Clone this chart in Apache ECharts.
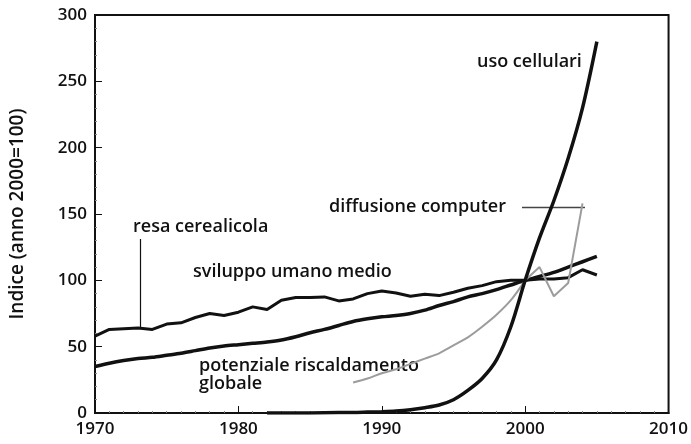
<!DOCTYPE html>
<html>
<head>
<meta charset="utf-8">
<script src="https://cdn.jsdelivr.net/npm/echarts@6/dist/echarts.min.js"></script>
<style>
    html, body { margin: 0; background: #fff; }
    #chart { width: 691px; height: 444px; }
</style>
</head>
<body>
<div id="chart"></div>
<script>
// anni e valori (indice, anno 2000 = 100)
var anniResa = [1970, 1971, 1972, 1973, 1974, 1975, 1976, 1977, 1978, 1979, 1980, 1981, 1982, 1983, 1984, 1985, 1986, 1987,
    1988, 1989, 1990, 1991, 1992, 1993, 1994, 1995, 1996, 1997, 1998, 1999, 2000, 2001, 2002, 2003, 2004, 2005];
var resaCerealicola = [58, 63, 63.5, 64, 63, 67, 68, 72, 75, 73.5, 76, 80, 78, 85, 87, 87, 87.5, 84.5,
    86, 90, 92, 90.5, 88, 89.5, 88.5, 91, 94, 96, 99, 100, 100, 101, 101, 102, 108, 104];
var sviluppoUmano = [35, 37.5, 39.5, 41, 42, 43.5, 45, 47, 49, 50.5, 51.5, 52.5, 53.5, 55, 57.5, 60.5, 63, 66,
    69, 71, 72.5, 73.5, 75, 77.5, 81, 84, 87.5, 90, 93, 96.5, 100, 103, 106, 110, 114, 118];

var anniRiscaldamento = [1988, 1989, 1990, 1991, 1992, 1993, 1994, 1995, 1996, 1997, 1998, 1999, 2000];
var riscaldamento = [23, 26, 30, 33, 37, 41, 45, 51, 57, 65, 74, 85, 100];

var anniComputer = [2000, 2001, 2002, 2003, 2004];
var computer = [100, 110, 88, 98, 158];

var anniCellulari = [1982, 1984, 1986, 1988, 1989, 1990, 1991, 1992, 1993, 1994, 1995, 1996, 1997, 1998, 1999, 2000,
    2001, 2002, 2003, 2004, 2005];
var cellulari = [0, 0, 0.2, 0.4, 0.7, 1, 1.5, 2.5, 4, 6, 10, 17, 26, 40, 65, 100, 132, 160, 192, 230, 280];

function coppie(anni, valori) {
    return anni.map(function (a, i) { return [a, valori[i]]; });
}

var font = "'Open Sans', 'DejaVu Sans', sans-serif";
var nero = "#111";
var grigio = "#9c9c9c";
var testo = "600 18px " + font;

function etichetta(x, y, t) {
    return { type: "text", x: x, y: y, style: { text: t, fill: nero, font: testo, textVerticalAlign: "middle" } };
}

var myChart = echarts.init(document.getElementById("chart"));
var opt = {
    animation: false,
    backgroundColor: "#fff",
    grid: { left: 95, right: 15, top: 15, bottom: 31, show: true, borderColor: nero, borderWidth: 2 },
    xAxis: {
        type: "value",
        min: 1970, max: 2010, interval: 10,
        axisLine: { show: true, lineStyle: { color: nero, width: 2 } },
        axisTick: { show: true, inside: true, length: 7, lineStyle: { color: nero } },
        minorTick: { show: true, splitNumber: 10, length: 2, lineStyle: { color: "#888" } },
        splitLine: { show: false },
        axisLabel: {
            color: nero, fontFamily: font, fontWeight: 600, fontSize: 17, margin: 8,
            formatter: function (v) { return String(v); }
        }
    },
    yAxis: {
        type: "value",
        min: 0, max: 300, interval: 50,
        name: "Indice (anno 2000=100)",
        nameLocation: "middle",
        nameGap: 68,
        nameTextStyle: { color: nero, fontFamily: font, fontWeight: 600, fontSize: 19 },
        axisLine: { show: true, lineStyle: { color: nero, width: 2 } },
        axisTick: { show: true, inside: true, length: 7, lineStyle: { color: nero } },
        minorTick: { show: true, splitNumber: 5, length: 2, lineStyle: { color: "#888" } },
        splitLine: { show: false },
        axisLabel: { color: nero, fontFamily: font, fontWeight: 600, fontSize: 17, margin: 8 }
    },
    series: [
        {
            name: "resa cerealicola", type: "line", showSymbol: false,
            data: coppie(anniResa, resaCerealicola),
            lineStyle: { color: nero, width: 3 }
        },
        {
            name: "sviluppo umano medio", type: "line", showSymbol: false, smooth: 0.3,
            data: coppie(anniResa, sviluppoUmano),
            lineStyle: { color: nero, width: 3.5 }
        },
        {
            name: "potenziale riscaldamento globale", type: "line", showSymbol: false, smooth: 0.3,
            data: coppie(anniRiscaldamento, riscaldamento),
            lineStyle: { color: grigio, width: 2 }
        },
        {
            name: "diffusione computer", type: "line", showSymbol: false,
            data: coppie(anniComputer, computer),
            lineStyle: { color: grigio, width: 2 }
        },
        {
            name: "uso cellulari", type: "line", showSymbol: false, smooth: 0.3,
            data: coppie(anniCellulari, cellulari),
            lineStyle: { color: nero, width: 3.5 }
        }
    ],
    graphic: [
        etichetta(477, 62, "uso cellulari"),
        etichetta(329, 207, "diffusione computer"),
        { type: "line", shape: { x1: 522, y1: 207.5, x2: 585, y2: 207.5 }, style: { stroke: "#444", lineWidth: 1.5 } },
        etichetta(133, 227, "resa cerealicola"),
        { type: "line", shape: { x1: 140.5, y1: 239, x2: 140.5, y2: 328 }, style: { stroke: nero, lineWidth: 1.2 } },
        etichetta(193, 272, "sviluppo umano medio"),
        etichetta(199, 366, "potenziale riscaldamento"),
        etichetta(199, 384, "globale")
    ]
};
myChart.setOption(opt);
</script>
</body>
</html>
